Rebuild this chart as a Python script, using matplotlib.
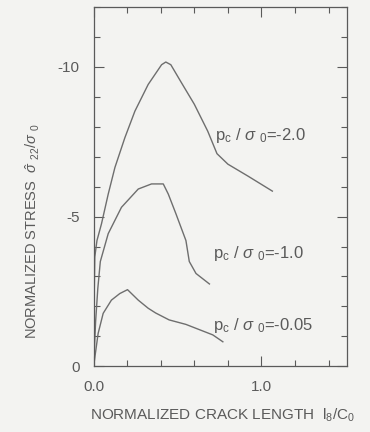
import matplotlib
matplotlib.use("Agg")
import matplotlib.pyplot as plt
from matplotlib.ticker import MultipleLocator, FixedLocator

# Kurven (x = l_8/C_0, y = sigma_22/sigma_0)
x_20 = [0, 0.002, 0.007, 0.02, 0.047, 0.087, 0.127, 0.186, 0.246, 0.325, 0.405,
        0.43, 0.46, 0.52, 0.60, 0.68, 0.735, 0.80, 0.92, 1.065]
y_20 = [0, -1.8, -3.65, -4.2, -4.76, -5.75, -6.64, -7.63, -8.52, -9.41, -10.07,
        -10.16, -10.07, -9.5, -8.75, -7.85, -7.1, -6.75, -6.35, -5.85]

x_10 = [0, 0.012, 0.025, 0.04, 0.087, 0.166, 0.266, 0.345, 0.415, 0.445, 0.49,
        0.55, 0.57, 0.61, 0.69]
y_10 = [0, -1.5, -2.6, -3.5, -4.43, -5.31, -5.92, -6.09, -6.09, -5.75, -5.1,
        -4.2, -3.5, -3.1, -2.75]

x_005 = [0, 0.027, 0.057, 0.106, 0.156, 0.202, 0.266, 0.325, 0.37, 0.45, 0.55,
         0.71, 0.77]
y_005 = [0, -1.1, -1.77, -2.21, -2.43, -2.56, -2.21, -1.94, -1.78, -1.55, -1.4,
         -1.05, -0.82]

beschriftungen = ["-2.0", "-1.0", "-0.05"]
label_pos = [(0.725, -7.7), (0.71, -3.77), (0.71, -1.38)]

plt.rcParams["font.family"] = ["Liberation Sans", "DejaVu Sans"]
plt.rcParams["mathtext.fontset"] = "custom"
plt.rcParams["mathtext.rm"] = "Liberation Sans"
plt.rcParams["mathtext.it"] = "Liberation Sans:italic"
plt.rcParams["mathtext.bf"] = "Liberation Sans:bold"

grau = "#5a5a5a"
linie = "#6e6e6e"
hintergrund = "#f3f3f1"

fig = plt.figure(figsize=(3.7, 4.32), dpi=100, facecolor=hintergrund)
ax = fig.add_axes([0.253, 0.152, 0.685, 0.832], facecolor=hintergrund)

for xs, ys in [(x_20, y_20), (x_10, y_10), (x_005, y_005)]:
    ax.plot(xs, ys, color=linie, linewidth=1.0)

for wert, (tx, ty) in zip(beschriftungen, label_pos):
    ax.text(tx, ty, r"p$_{\rm c}$ / $\sigma$ $_{\rm 0}$=" + wert,
            fontsize=12, color=grau, va="center", ha="left")

ax.set_xlim(0, 1.51)
ax.set_ylim(0, -12)

ax.xaxis.set_major_locator(FixedLocator([0.0, 1.0]))
ax.xaxis.set_minor_locator(MultipleLocator(0.2))
ax.set_xticklabels(["0.0", "1.0"])
ax.yaxis.set_major_locator(FixedLocator([0, -5, -10]))
ax.yaxis.set_minor_locator(MultipleLocator(1))
ax.set_yticklabels(["0", "-5", "-10"])

ax.tick_params(which="both", direction="in", top=True, right=True,
               color=grau, labelcolor=grau, labelsize=11, pad=10)
ax.tick_params(which="major", length=7, width=0.8)
ax.tick_params(which="minor", length=4.5, width=0.8)
for s in ax.spines.values():
    s.set_color(grau)
    s.set_linewidth(0.9)

ax.set_xlabel(r"NORMALIZED CRACK LENGTH  l$_8$/C$_0$", fontsize=11,
              color=grau, va="center")
ax.xaxis.set_label_coords(0.51, -0.135)
ax.set_ylabel(r"NORMALIZED STRESS  $\hat{\sigma}$ $_{22}$/$\sigma$ $_{0}$",
              fontsize=10.5, color=grau, va="center")
ax.yaxis.set_label_coords(-0.24, 0.375)

fig.savefig("out.png", dpi=100, facecolor=hintergrund)
